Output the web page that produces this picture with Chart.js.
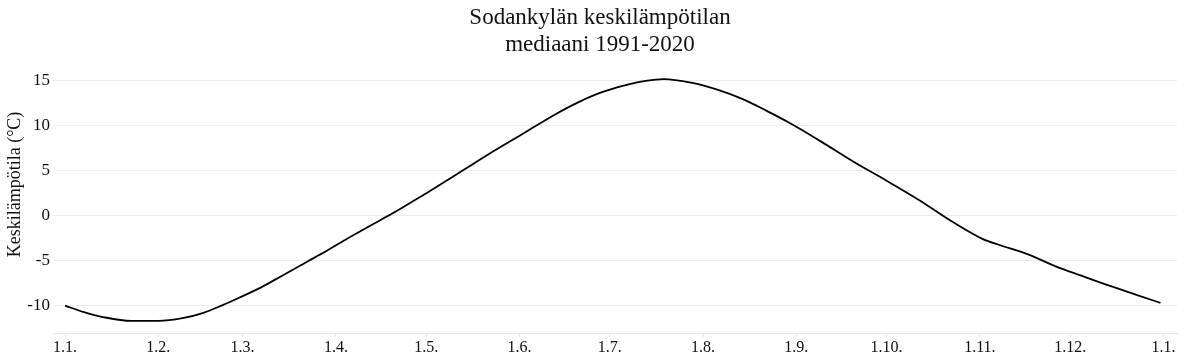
<!DOCTYPE html>
<html><head><meta charset="utf-8">
<script src="https://cdn.jsdelivr.net/npm/chart.js@4/dist/chart.umd.min.js"></script>
<style>html,body{margin:0;padding:0;background:#fff}#wrap{width:1200px;height:357px;position:relative}</style>
</head><body><div id="wrap"><canvas id="c"></canvas></div>
<script>
const titleLines = ["Sodankylän keskilämpötilan", "mediaani 1991-2020"];
const yAxisTitle = "Keskilämpötila (°C)";
const days  = [0, 6, 13, 22, 31, 39, 46, 52, 58, 65, 72, 80, 87, 94, 102, 109, 116, 121, 132, 141, 152, 163, 171, 178, 186, 193, 199, 208, 217, 225, 233, 242, 251, 262, 273, 284, 295, 305, 310, 320, 329, 338, 348, 356, 364];
const temps = [-10.0, -10.7, -11.3, -11.7, -11.7, -11.4, -10.8, -10.0, -9.1, -8.0, -6.7, -5.2, -3.9, -2.5, -1.0, 0.3, 1.7, 2.7, 5.0, 6.9, 9.1, 11.3, 12.7, 13.7, 14.5, 15.0, 15.2, 14.8, 14.0, 13.0, 11.7, 10.1, 8.3, 6.0, 3.9, 1.7, -0.7, -2.6, -3.2, -4.3, -5.6, -6.7, -7.9, -8.8, -9.7];
const monthTickDays = [0, 31, 59, 90, 120, 151, 181, 212, 243, 273, 304, 334, 365];
const monthTickLabels = ["1.1.", "1.2.", "1.3.", "1.4.", "1.5.", "1.6.", "1.7.", "1.8.", "1.9.", "1.10.", "1.11.", "1.12.", "1.1."];
const yTicks = [-10, -5, 0, 5, 10, 15];

const FONT = "'Liberation Serif', 'DejaVu Serif', serif";

const titlePlugin = {
  id: 'twoLineTitle',
  afterDraw(chart) {
    const ctx = chart.ctx;
    ctx.save();
    ctx.font = "23px " + FONT;
    ctx.fillStyle = "#111";
    ctx.textAlign = "center";
    ctx.textBaseline = "middle";
    titleLines.forEach((t, i) => ctx.fillText(t, 600, 18 + i * 27));
    ctx.restore();
  }
};

new Chart(document.getElementById('c'), {
  type: 'line',
  data: {
    datasets: [{
      data: days.map((d, i) => ({ x: d, y: temps[i] })),
      borderColor: '#000',
      borderWidth: 1.8,
      pointRadius: 0,
      cubicInterpolationMode: 'monotone',
      fill: false
    }]
  },
  options: {
    responsive: true,
    maintainAspectRatio: false,
    animation: false,
    layout: { padding: { left: 0, right: 23, top: 36, bottom: 0 } },
    plugins: { legend: { display: false }, tooltip: { enabled: false }, title: { display: false } },
    scales: {
      x: {
        type: 'linear',
        min: -4,
        max: 369.5,
        afterBuildTicks: s => { s.ticks = monthTickDays.map(v => ({ value: v })); },
        afterFit: s => { s.height = 24; },
        ticks: {
          autoSkip: false, maxRotation: 0, minRotation: 0, padding: 1,
          font: { family: FONT, size: 16 }, color: '#111',
          callback: (v, i) => monthTickLabels[i]
        },
        grid: { drawOnChartArea: false, drawTicks: true, tickLength: 4, color: '#e4e7ee' },
        border: { display: true, color: '#e4e7ee', width: 1 }
      },
      y: {
        min: -13.05,
        max: 20,
        afterBuildTicks: s => { s.ticks = yTicks.map(v => ({ value: v })); },
        afterFit: s => { s.width = 53; },
        ticks: { padding: 3, font: { family: FONT, size: 17 }, color: '#111' },
        grid: { drawTicks: false, color: '#ececec', lineWidth: 1 },
        border: { display: false },
        title: { display: true, text: yAxisTitle, font: { family: FONT, size: 18 }, color: '#111', padding: { top: 4, bottom: 0 } }
      }
    }
  },
  plugins: [titlePlugin]
});
</script>
</body></html>
